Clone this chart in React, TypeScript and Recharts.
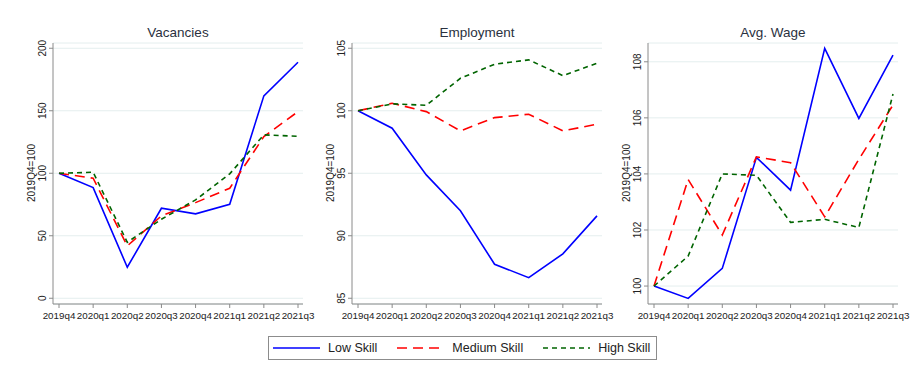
import React from "react";
import { LineChart, Line, XAxis, YAxis, CartesianGrid } from "recharts";

const QUARTERS = ["2019q4", "2020q1", "2020q2", "2020q3", "2020q4", "2021q1", "2021q2", "2021q3"];

const VAC_LOW = [100, 88.5, 24.8, 72, 67.5, 75.2, 161.9, 188.8];
const VAC_MED = [100, 96, 41.9, 65.9, 76.5, 88, 129.3, 149.3];
const VAC_HIGH = [100, 100.8, 44.8, 63.2, 78.7, 99.5, 130.7, 129.6];
const VAC_TICKS = [0, 50, 100, 150, 200];

const EMP_LOW = [100, 98.6, 94.87, 92.0, 87.72, 86.65, 88.55, 91.59];
const EMP_MED = [100, 100.6, 99.93, 98.39, 99.45, 99.72, 98.39, 98.92];
const EMP_HIGH = [100, 100.55, 100.44, 102.6, 103.72, 104.07, 102.81, 103.8];
const EMP_TICKS = [85, 90, 95, 100, 105];

const WAGE_LOW = [100, 99.56, 100.63, 104.59, 103.42, 108.48, 105.98, 108.24];
const WAGE_MED = [100, 103.8, 101.82, 104.61, 104.4, 102.47, 104.52, 106.46];
const WAGE_HIGH = [100, 101.07, 104.0, 103.95, 102.27, 102.38, 102.09, 106.85];
const WAGE_TICKS = [100, 102, 104, 106, 108];

const SERIES = [
  { key: "low", name: "Low Skill", color: "#0000ff", dash: undefined },
  { key: "medium", name: "Medium Skill", color: "#ff0000", dash: "10 6" },
  { key: "high", name: "High Skill", color: "#006400", dash: "5 4" },
];

const FONT = '"Liberation Sans", Arial, sans-serif';
const TEXT = "#222";
const AXIS = "#8a8a8a";

// rotated y tick labels, like stata
const YTick = (props: any) => {
  const { x, y, payload } = props;
  return (
    <text
      x={x}
      y={y}
      transform={`rotate(-90 ${x} ${y})`}
      textAnchor="middle"
      fontSize={10}
      fontFamily={FONT}
      fill={TEXT}
    >
      {payload.value}
    </text>
  );
};

interface PanelProps {
  title: string;
  low: number[];
  medium: number[];
  high: number[];
  ticks: number[];
  domain: [number, number];
  left: number;
}

const Panel: React.FC<PanelProps> = ({ title, low, medium, high, ticks, domain, left }) => {
  const data = QUARTERS.map((q, i) => ({ q, low: low[i], medium: medium[i], high: high[i] }));
  return (
    <div style={{ position: "absolute", left, top: 0, width: 320, height: 330 }}>
      <LineChart
        width={320}
        height={330}
        data={data}
        margin={{ top: 43, right: 17, bottom: 6, left: 0 }}
      >
        <CartesianGrid vertical={false} stroke="#e4eeee" />
        <XAxis
          dataKey="q"
          interval={0}
          padding={{ left: 6, right: 5 }}
          height={20}
          tickSize={4}
          tickMargin={4}
          stroke={AXIS}
          tick={{ fontSize: 9.8, fill: TEXT, fontFamily: FONT }}
        />
        <YAxis
          type="number"
          domain={domain}
          ticks={ticks}
          allowDataOverflow
          width={53}
          tickSize={4}
          tickMargin={3}
          stroke={AXIS}
          tick={<YTick />}
        />
        {SERIES.map((s) => (
          <Line
            key={s.key}
            dataKey={s.key}
            name={s.name}
            stroke={s.color}
            strokeWidth={1.6}
            strokeDasharray={s.dash}
            dot={false}
            activeDot={false}
            isAnimationActive={false}
          />
        ))}
      </LineChart>
      <div
        style={{
          position: "absolute",
          left: 53,
          top: 25,
          width: 250,
          textAlign: "center",
          fontSize: 13.5,
          lineHeight: "16px",
          color: "#2a3140",
        }}
      >
        {title}
      </div>
      <div
        style={{
          position: "absolute",
          left: 32,
          top: 173,
          transform: "translate(-50%, -50%) rotate(-90deg)",
          fontSize: 10,
          lineHeight: "12px",
          whiteSpace: "nowrap",
          color: TEXT,
        }}
      >
        2019Q4=100
      </div>
    </div>
  );
};

export default function App() {
  return (
    <div
      style={{
        position: "absolute",
        left: 0,
        top: 0,
        width: 917,
        height: 368,
        background: "#fff",
        fontFamily: FONT,
      }}
    >
      <Panel title="Vacancies" low={VAC_LOW} medium={VAC_MED} high={VAC_HIGH} ticks={VAC_TICKS} domain={[-4.6, 204.2]} left={0} />
      <Panel title="Employment" low={EMP_LOW} medium={EMP_MED} high={EMP_HIGH} ticks={EMP_TICKS} domain={[84.54, 105.42]} left={299} />
      <Panel title="Avg. Wage" low={WAGE_LOW} medium={WAGE_MED} high={WAGE_HIGH} ticks={WAGE_TICKS} domain={[99.36, 108.67]} left={595} />

      {/* Legend */}
      <div
        style={{
          position: "absolute",
          left: 268,
          top: 336,
          width: 383,
          height: 22,
          border: "1px solid #8c8c8c",
          display: "flex",
          alignItems: "center",
          paddingLeft: 4,
          whiteSpace: "nowrap",
          boxSizing: "content-box",
          fontSize: 12.5,
          color: TEXT,
        }}
      >
        {SERIES.map((s) => (
          <div key={s.key} style={{ display: "flex", alignItems: "center", marginRight: 20, flexShrink: 0 }}>
            <svg width={47} height={4} style={{ marginRight: 8, flexShrink: 0 }}>
              <line x1={0} y1={2} x2={47} y2={2} stroke={s.color} strokeWidth={1.6} strokeDasharray={s.dash} />
            </svg>
            <span>{s.name}</span>
          </div>
        ))}
      </div>
    </div>
  );
}
